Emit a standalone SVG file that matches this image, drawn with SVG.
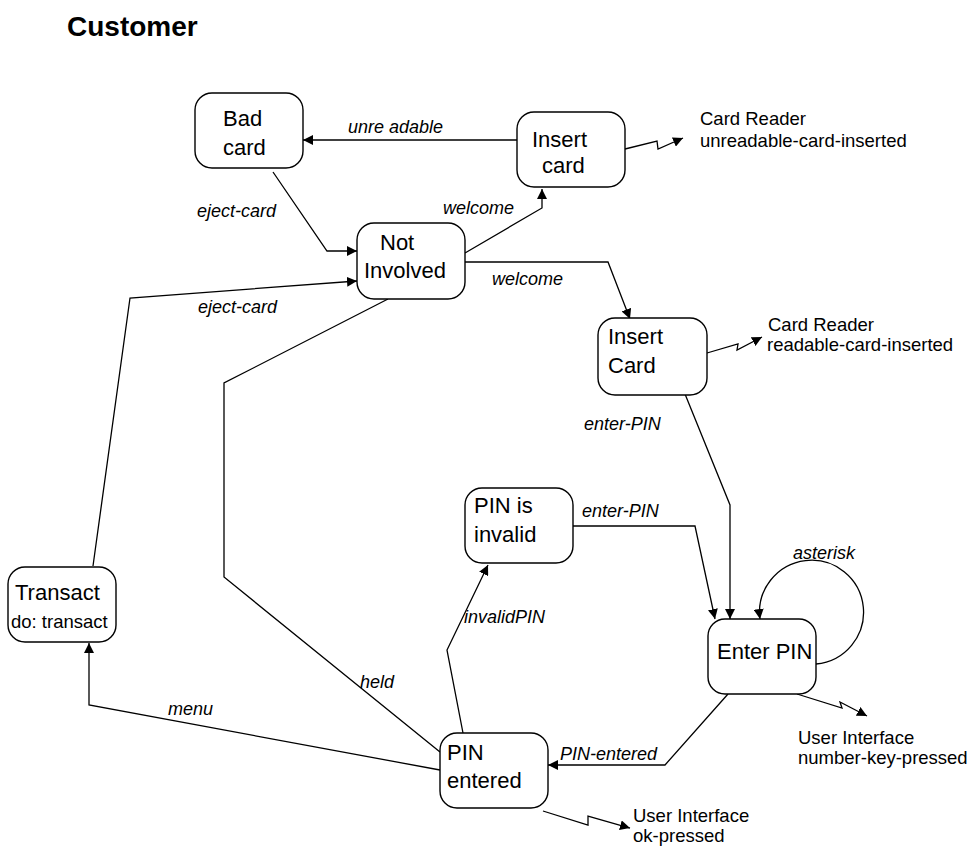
<svg xmlns="http://www.w3.org/2000/svg" width="978" height="850" viewBox="0 0 978 850">
<defs>
<style>
.box{fill:#fff;stroke:#000;stroke-width:1.4}
.t{font-family:"Liberation Sans",Arial,sans-serif;font-size:22px;fill:#000}
.ann{font-family:"Liberation Sans",Arial,sans-serif;font-size:18.5px;fill:#000}
.lbl{font-family:"Liberation Sans",Arial,sans-serif;font-size:18px;font-style:italic;fill:#000}
.e{fill:none;stroke:#000;stroke-width:1.3}
.title{font-family:"Liberation Sans",Arial,sans-serif;font-size:28px;font-weight:bold;fill:#000}
</style>
<marker id="arr" viewBox="0 0 10 10" refX="10" refY="5" markerWidth="10" markerHeight="10" markerUnits="userSpaceOnUse" orient="auto">
<path d="M0,0 L10,5 L0,10 z" fill="#000"/>
</marker>
</defs>
<rect width="978" height="850" fill="#fff"/>
<text class="title" x="67" y="36">Customer</text>

<g id="connectors">
<path class="e" d="M517,140 L303,140" marker-end="url(#arr)"/>
<path class="e" d="M273,172 L327,251 L357,251" marker-end="url(#arr)"/>
<path class="e" d="M465,253 L542,208 L542,189" marker-end="url(#arr)"/>
<path class="e" d="M465,262 L608,262 L630,319" marker-end="url(#arr)"/>
<path class="e" d="M93,566 L130,298 L357,281" marker-end="url(#arr)"/>
<path class="e" d="M388,299 L224,383 L224,577 L440,752"/>
<path class="e" d="M685,394 L730,505 L730,619" marker-end="url(#arr)"/>
<path class="e" d="M573,526 L695,526 L715,619" marker-end="url(#arr)"/>
<path class="e" d="M816,664 A52,52 0 1 0 760,619" marker-end="url(#arr)"/>
<path class="e" d="M728,694 L665,765 L548,765" marker-end="url(#arr)"/>
<path class="e" d="M463,733 L447,650 L488,565" marker-end="url(#arr)"/>
<path class="e" d="M440,770 L89,705 L89,643" marker-end="url(#arr)"/>
<path class="e" d="M625,149 L657,141 L658,149 L683,138" marker-end="url(#arr)"/>
<path class="e" d="M707,353 L738,344 L737,350 L762,337" marker-end="url(#arr)"/>
<path class="e" d="M797,694 L842,708 L840,702 L867,716" marker-end="url(#arr)"/>
<path class="e" d="M543,811 L588,825 L588,816 L630,828" marker-end="url(#arr)"/>
<text class="lbl" x="348" y="133">unre adable</text>
<text class="lbl" x="197" y="217">eject-card</text>
<text class="lbl" x="443" y="214">welcome</text>
<text class="lbl" x="492" y="285">welcome</text>
<text class="lbl" x="198" y="313">eject-card</text>
<text class="lbl" x="584" y="430">enter-PIN</text>
<text class="lbl" x="582" y="517">enter-PIN</text>
<text class="lbl" x="793" y="559">asterisk</text>
<text class="lbl" x="464" y="623">invalidPIN</text>
<text class="lbl" x="360" y="688">held</text>
<text class="lbl" x="168" y="715">menu</text>
<text class="lbl" x="560" y="760">PIN-entered</text>
<text class="ann" x="700" y="125">Card Reader</text>
<text class="ann" x="700" y="147">unreadable-card-inserted</text>
<text class="ann" x="768" y="331">Card Reader</text>
<text class="ann" x="767" y="351">readable-card-inserted</text>
<text class="ann" x="798" y="744">User Interface</text>
<text class="ann" x="798" y="764">number-key-pressed</text>
<text class="ann" x="633" y="822">User Interface</text>
<text class="ann" x="633" y="842">ok-pressed</text>
</g>

<g id="bad-card">
<rect class="box" x="195" y="93" width="108" height="75" rx="17"/>
<text class="t" x="223" y="126">Bad</text>
<text class="t" x="223" y="155">card</text>
</g>
<g id="insert-card-1">
<rect class="box" x="517" y="112" width="108" height="75" rx="17"/>
<text class="t" x="532" y="147">Insert</text>
<text class="t" x="542" y="173">card</text>
</g>
<g id="not-involved">
<rect class="box" x="357" y="223" width="108" height="76" rx="17"/>
<text class="t" x="380" y="250">Not</text>
<text class="t" x="364" y="278">Involved</text>
</g>
<g id="insert-card-2">
<rect class="box" x="598" y="318" width="109" height="77" rx="17"/>
<text class="t" x="608" y="344">Insert</text>
<text class="t" x="608" y="373">Card</text>
</g>
<g id="pin-invalid">
<rect class="box" x="465" y="488" width="108" height="75" rx="17"/>
<text class="t" x="474" y="513">PIN is</text>
<text class="t" x="474" y="542">invalid</text>
</g>
<g id="transact">
<rect class="box" x="8" y="567" width="108" height="75" rx="17"/>
<text class="t" x="15" y="600">Transact</text>
<text class="ann" x="11" y="628">do: transact</text>
</g>
<g id="enter-pin">
<rect class="box" x="708" y="619" width="108" height="75" rx="17"/>
<text class="t" x="717" y="659">Enter PIN</text>
</g>
<g id="pin-entered">
<rect class="box" x="440" y="733" width="108" height="75" rx="17"/>
<text class="t" x="447" y="760">PIN</text>
<text class="t" x="447" y="788">entered</text>
</g>
</svg>
